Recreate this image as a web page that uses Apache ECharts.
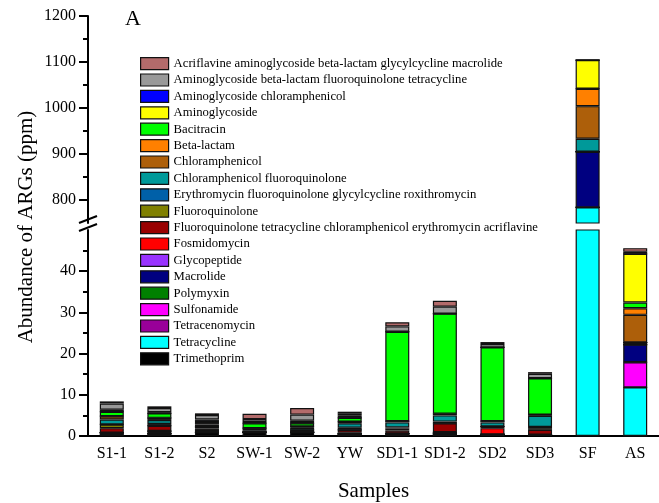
<!DOCTYPE html>
<html>
<head>
<meta charset="utf-8">
<script src="https://cdn.jsdelivr.net/npm/echarts@6/dist/echarts.min.js"></script>
<style>
  html, body { margin: 0; padding: 0; background: #fff; }
  #chart { width: 659px; height: 503px; }
</style>
</head>
<body>
<div id="chart"></div>
<script>
const categories = ['S1-1', 'S1-2', 'S2', 'SW-1', 'SW-2', 'YW', 'SD1-1', 'SD1-2', 'SD2', 'SD3', 'SF', 'AS']

// values in ppm, same order as categories
const trimethoprim       = [0.2, 0.6, 0.9, 0.9, 0.9, 0.5, 0.6, 0.5, 0.4, 0.3, 0, 0]
const tetracycline       = [0, 0, 0, 0, 0, 0, 0, 0, 0, 0, 784, 11.8]
const tetracenomycin     = [0.6, 0, 0, 0, 0, 0, 0, 0, 0, 0, 0, 0]
const sulfonamide        = [0, 0, 0, 0, 0, 0, 0, 0, 0, 0, 0, 6.1]
const polymyxin          = [0, 0, 0, 0, 0, 0, 0, 0, 0, 0, 0, 0]
const macrolide          = [0, 0.6, 0.6, 0, 0, 0, 0, 0.4, 0, 0, 121, 4.3]
const glycopeptide       = [0, 0, 0, 0, 0, 0, 0, 0, 0, 0, 0, 0]
const fosmidomycin       = [0, 0, 0.3, 0, 0, 0.3, 0, 0, 1.5, 0, 0, 0]
const fqTetracycline     = [1.1, 1.3, 0.4, 0, 0, 0.7, 0.7, 2.2, 0.4, 1.2, 0, 0.5]
const fluoroquinolone    = [0.9, 0, 0, 0, 0.6, 0, 0.5, 0, 0, 0.4, 0, 0]
const erythromycinFq     = [0, 0.4, 0, 0, 0, 0.5, 0.3, 0.4, 0, 0.3, 0, 0]
const chloramphenicolFq  = [1.2, 1.0, 0.6, 0.5, 0.6, 1.1, 1.2, 1.5, 1.0, 2.7, 28, 0]
const chloramphenicol    = [0.8, 0.5, 0.3, 0.5, 0.2, 0.4, 0.3, 0.4, 0.3, 0.3, 71, 6.7]
const betaLactam         = [0, 0, 0, 0, 0, 0, 0, 0, 0, 0, 38, 1.6]
const bacitracin         = [1.1, 1.1, 0.6, 1.2, 0.8, 0.9, 21.7, 24.3, 17.9, 8.8, 0, 1.4]
const aminoglycoside     = [0, 0, 0, 0, 0, 0, 0, 0, 0, 0, 62, 11.8]
const aminoglycosideChl  = [0.5, 0.3, 0.3, 0.3, 0.6, 0.5, 0, 0, 0, 0, 0, 0]
const aminoglycosideBlFq = [1.5, 1.0, 1.1, 0.7, 1.5, 0.6, 1.3, 1.7, 0.8, 1.1, 0, 0.5]
const acriflavine        = [0.5, 0.4, 0.4, 1.3, 1.6, 0.4, 1.0, 1.4, 0.5, 0.4, 0, 0.9]

const lowerTicks = [0, 10, 20, 30, 40]
const upperTicks = [800, 900, 1000, 1100, 1200]
const upperMinorTicks = [850, 950, 1050, 1150]

// stacking order, bottom first
const classes = [
  ['Trimethoprim', trimethoprim, '#000000'],
  ['Tetracycline', tetracycline, '#00ffff'],
  ['Tetracenomycin', tetracenomycin, '#990099'],
  ['Sulfonamide', sulfonamide, '#ff00ff'],
  ['Polymyxin', polymyxin, '#008000'],
  ['Macrolide', macrolide, '#000080'],
  ['Glycopeptide', glycopeptide, '#9933ff'],
  ['Fosmidomycin', fosmidomycin, '#ff0000'],
  ['Fluoroquinolone tetracycline chloramphenicol erythromycin acriflavine', fqTetracycline, '#990000'],
  ['Fluoroquinolone', fluoroquinolone, '#808000'],
  ['Erythromycin fluoroquinolone glycylcycline roxithromycin', erythromycinFq, '#0060a8'],
  ['Chloramphenicol fluoroquinolone', chloramphenicolFq, '#009999'],
  ['Chloramphenicol', chloramphenicol, '#ad5f0a'],
  ['Beta-lactam', betaLactam, '#ff8000'],
  ['Bacitracin', bacitracin, '#00ff00'],
  ['Aminoglycoside', aminoglycoside, '#ffff00'],
  ['Aminoglycoside chloramphenicol', aminoglycosideChl, '#0000ff'],
  ['Aminoglycoside beta-lactam fluoroquinolone tetracycline', aminoglycosideBlFq, '#999999'],
  ['Acriflavine aminoglycoside beta-lactam glycylcycline macrolide', acriflavine, '#b36b6b']
]

const font = 'Liberation Serif'
const barStyle = { borderColor: '#111', borderWidth: 1.2 }

const series = []
classes.forEach(([name, data, color]) => {
  // lower panel
  series.push({
    name, type: 'bar', stack: 'low', xAxisIndex: 1, yAxisIndex: 2,
    barWidth: 24, data, clip: true,
    itemStyle: Object.assign({ color }, barStyle)
  })
  // upper panel (only SF reaches it)
  series.push({
    name, type: 'bar', stack: 'up', xAxisIndex: 0, yAxisIndex: 0,
    barWidth: 24, data, clip: true,
    itemStyle: Object.assign({ color }, barStyle)
  })
})

const chart = echarts.init(document.getElementById('chart'), null, { renderer: 'canvas' })
chart.setOption({
  animation: false,
  backgroundColor: '#fff',
  textStyle: { fontFamily: font, color: '#000' },
  legend: {
    orient: 'vertical',
    left: 135,
    top: 52,
    itemWidth: 28,
    itemHeight: 12,
    itemGap: 3.2,
    icon: 'rect',
    data: classes.map(c => c[0]).reverse(),
    textStyle: { fontFamily: font, fontSize: 12.7, color: '#000', lineHeight: 12 },
    itemStyle: { borderColor: '#111', borderWidth: 1.2 }
  },
  grid: [
    { left: 88, top: 16, width: 574, height: 207 },
    { left: 88, top: 230, width: 574, height: 207 }
  ],
  xAxis: [{
    type: 'category', gridIndex: 0, data: categories, show: false
  }, {
    type: 'category', gridIndex: 1, data: categories,
    name: 'Samples', nameLocation: 'middle', nameGap: 45,
    nameTextStyle: { fontFamily: font, fontSize: 21, color: '#000' },
    axisLine: { lineStyle: { color: '#000', width: 2 } },
    axisTick: { alignWithLabel: true, length: 6, lineStyle: { color: '#000', width: 2 } },
    axisLabel: { fontFamily: font, fontSize: 16, color: '#000', margin: 10, interval: 0 }
  }],
  yAxis: [{
    type: 'value', gridIndex: 0, min: 750, max: 1200, interval: 50, position: 'left',
    axisLine: { show: true, lineStyle: { color: '#000', width: 2 } },
    axisTick: { show: true, length: 9, customValues: upperTicks, lineStyle: { color: '#000', width: 2 } },
    axisLabel: {
      fontFamily: font, fontSize: 16, color: '#000', margin: 12, customValues: upperTicks,
      formatter: v => String(v)
    },
    splitLine: { show: false }
  }, {
    type: 'value', gridIndex: 0, min: 750, max: 1200, interval: 50, position: 'left',
    axisLine: { show: false },
    axisTick: { show: true, length: 5, customValues: upperMinorTicks, lineStyle: { color: '#000', width: 2 } },
    axisLabel: { show: false },
    splitLine: { show: false }
  }, {
    type: 'value', gridIndex: 1, min: 0, max: 50, interval: 10, position: 'left',
    axisLine: { show: true, lineStyle: { color: '#000', width: 2 } },
    axisTick: { show: true, length: 9, customValues: lowerTicks, lineStyle: { color: '#000', width: 2 } },
    minorTick: { show: true, splitNumber: 2, length: 5, lineStyle: { color: '#000', width: 2 } },
    axisLabel: {
      fontFamily: font, fontSize: 16, color: '#000', margin: 12, customValues: lowerTicks,
      formatter: v => String(v)
    },
    splitLine: { show: false }
  }],
  graphic: [
    {
      type: 'text', left: 125, top: 8,
      style: { text: 'A', fontFamily: font, fontSize: 22, fill: '#000' }
    },
    {
      type: 'text', x: 26, y: 227, rotation: Math.PI / 2,
      style: {
        text: 'Abundance of ARGs (ppm)', fontFamily: font, fontSize: 21, fill: '#000',
        align: 'center', verticalAlign: 'middle'
      }
    },
    {
      type: 'line', shape: { x1: 79, y1: 223, x2: 97, y2: 216 },
      style: { stroke: '#000', lineWidth: 2 }
    },
    {
      type: 'line', shape: { x1: 79, y1: 231, x2: 97, y2: 224 },
      style: { stroke: '#000', lineWidth: 2 }
    }
  ],
  series
})
</script>
</body>
</html>
